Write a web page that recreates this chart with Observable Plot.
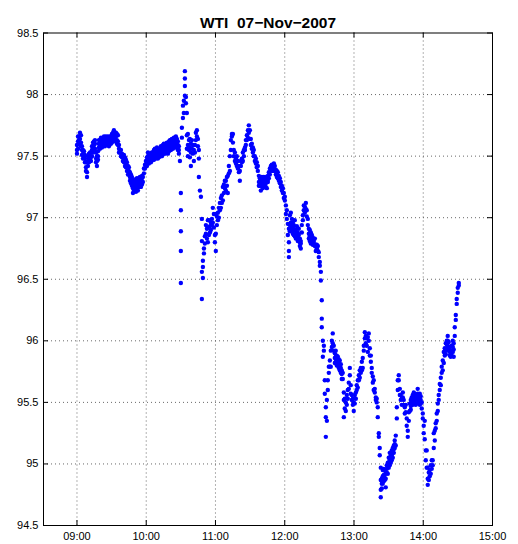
<!DOCTYPE html>
<html>
<head>
<meta charset="utf-8">
<script src="https://cdn.jsdelivr.net/npm/d3@7"></script>
<script src="https://cdn.jsdelivr.net/npm/@observablehq/plot@0.6"></script>
<style>
  html, body { margin: 0; padding: 0; background: #fff; }
  #chart svg text { white-space: pre; }
</style>
</head>
<body>
<div id="chart"></div>
<script>
// WTI crude oil intraday trades, 07 Nov 2007.
// Each row: [minutes after 09:00, price, price, ...] — trades printed within the same moment.
const title = "WTI  07−Nov−2007";
const hourTicks = ["09:00", "10:00", "11:00", "12:00", "13:00", "14:00", "15:00"];
const timeDomain = ["08:31", "15:00"];
const priceTicks = [94.5, 95, 95.5, 96, 96.5, 97, 97.5, 98, 98.5];

const h09 = [
  [0.0,97.55,97.59,97.52],[0.9,97.62,97.56,97.66],[1.7,97.66,97.63,97.60],[2.6,97.69,97.64],[3.5,97.67,97.61,97.58],
  [4.3,97.58,97.55,97.51],[5.2,97.52,97.55,97.48],[6.1,97.50,97.54],[6.9,97.48,97.51,97.45],[7.8,97.45,97.41,97.38],
  [8.7,97.37,97.33],[9.5,97.42,97.46,97.50],[10.4,97.48,97.45,97.52],[11.3,97.50,97.46,97.53],[12.1,97.49,97.53,97.46],
  [13.0,97.55,97.50,97.58],[13.9,97.58,97.53,97.61],[14.7,97.62,97.59,97.55],[15.6,97.63,97.56,97.60],[16.5,97.53,97.48,97.45],
  [17.3,97.46,97.42,97.50],[18.2,97.50,97.54,97.47],[19.0,97.57,97.60,97.63],[19.9,97.59,97.63,97.56],[20.8,97.62,97.59,97.65],
  [21.6,97.60,97.63,97.57],[22.5,97.64,97.61,97.58],[23.4,97.63,97.59,97.66],[24.2,97.65,97.62,97.58],[25.1,97.63,97.60,97.66],
  [26.0,97.62,97.65,97.59],[26.8,97.63,97.59,97.66],[27.7,97.61,97.64,97.58],[28.6,97.63,97.60,97.66],[29.4,97.66,97.63,97.60],
  [30.3,97.68,97.64,97.61],[31.2,97.69,97.66,97.63],[32.0,97.71,97.67,97.64],[32.9,97.68,97.65,97.62],[33.8,97.66,97.63,97.69],
  [34.6,97.68,97.63,97.60],[35.5,97.67,97.62,97.59],[36.4,97.59,97.56,97.53],[37.2,97.55,97.53],[38.1,97.55,97.50],
  [39.0,97.52,97.49],[39.8,97.50,97.46],[40.7,97.48,97.45,97.51],[41.6,97.46,97.42,97.49],[42.4,97.44,97.41,97.47],
  [43.3,97.42,97.38,97.45],[44.2,97.42,97.38,97.35],[45.0,97.38,97.35,97.41],[45.9,97.37,97.33,97.30],[46.8,97.35,97.32,97.28],
  [47.6,97.33,97.29,97.26],[48.5,97.30,97.27,97.20,97.24],[49.4,97.29,97.25,97.22],[50.2,97.27,97.22,97.31],[51.1,97.25,97.30,97.21],
  [51.9,97.28,97.24,97.32],[52.8,97.29,97.26,97.22],[53.7,97.32,97.28,97.25],[54.5,97.29,97.25,97.33],[55.4,97.29,97.25,97.32],
  [56.3,97.30,97.27,97.34],[57.1,97.33,97.29],[58.0,97.40,97.36],[58.9,97.43,97.40],[59.7,97.46,97.42]
];

const h10 = [
  [60.6,97.49,97.45,97.42],[61.5,97.50,97.46,97.53],[62.3,97.51,97.48,97.44],[63.2,97.49,97.46,97.52],[64.1,97.52,97.48,97.45],
  [64.9,97.53,97.50,97.47],[65.8,97.50,97.47,97.53],[66.7,97.55,97.50,97.47],[67.5,97.53,97.49,97.56],[68.4,97.55,97.51,97.48],
  [69.3,97.54,97.50,97.57],[70.1,97.55,97.51,97.48],[71.0,97.52,97.49,97.55],[71.9,97.56,97.53,97.50],[72.7,97.55,97.50,97.58],
  [73.6,97.57,97.53,97.50],[74.5,97.59,97.55,97.52],[75.3,97.56,97.52,97.60],[76.2,97.58,97.55,97.52],[77.1,97.60,97.56,97.53],
  [77.9,97.58,97.54,97.61],[78.8,97.59,97.55,97.52],[79.7,97.62,97.57,97.54],[80.5,97.60,97.56,97.63],[81.4,97.63,97.58,97.55],
  [82.2,97.61,97.57,97.64],[83.1,97.63,97.59,97.56],[84.0,97.62,97.58,97.65],[84.8,97.65,97.60,97.57],[85.7,97.63,97.59,97.66],
  [86.6,97.61,97.57,97.64],[87.4,97.59,97.55,97.62],[88.3,97.58,97.55,97.52],[89.2,97.46],
  [90.0,97.20,97.06,96.89,96.73,96.47],
  [90.9,97.65,97.73],[91.8,97.81,97.91],[92.6,97.95,97.85],[93.5,97.99,98.07,98.13,98.19],
  [94.4,97.98,97.93],[95.2,97.85,97.67,97.56],[96.1,97.68,97.59,97.50],[97.0,97.63,97.55],
  [97.8,97.64,97.57,97.49],[98.7,97.60,97.53,97.42],[99.6,97.63,97.56],[100.4,97.59,97.52],
  [101.3,97.55,97.46],[102.2,97.59,97.53],[103.0,97.69,97.63],[103.9,97.71,97.66],[104.8,97.64,97.58],
  [105.6,97.55,97.48,97.33],[106.5,97.22],[107.4,97.17],
  [108.2,96.99,96.81,96.56,96.34],[109.1,96.65,96.60,96.51],[110.0,96.75,96.71],[110.8,96.79,96.85],
  [111.7,96.87,96.94],[112.6,96.91,96.83],[113.4,96.92,96.80,96.98],[114.3,96.98,96.86],
  [115.2,96.93,96.88],[116.0,96.90,96.96],[116.9,96.94,96.99],[117.7,97.08,96.96],
  [118.6,96.92,97.03],[119.5,96.80,96.86]
];

const h11 = [
  [120.3,96.73,97.03,96.87],[121.2,96.94,97.01],[122.1,97.04,96.98],[122.9,97.00,97.08],
  [123.8,97.06,97.12],[124.7,97.08,97.16],[125.5,97.12,97.18],[126.4,97.14,97.25],[127.3,97.20,97.27],
  [128.1,97.24,97.30],[129.0,97.30,97.22],[129.9,97.26,97.33],[130.7,97.34,97.20],[131.6,97.36,97.42],
  [132.5,97.38,97.50],[133.3,97.55,97.63],[134.2,97.68,97.66],[135.1,97.68,97.61],[135.9,97.55,97.50],
  [136.8,97.53,97.46],[137.7,97.48,97.44],[138.5,97.50,97.42],[139.4,97.46,97.40],[140.3,97.42,97.37],
  [141.1,97.30,97.38],[142.0,97.42,97.46],[142.9,97.45,97.48],[143.7,97.46,97.53],[144.6,97.50,97.55],
  [145.5,97.55,97.57],[146.3,97.59,97.63],[147.2,97.63,97.67],[148.1,97.71,97.65],[148.9,97.75,97.69],
  [149.8,97.71,97.64],[150.6,97.64,97.59],[151.5,97.60,97.56],[152.4,97.57,97.53],[153.2,97.55,97.50],
  [154.1,97.50,97.46],[155.0,97.48,97.44],[155.8,97.45,97.41],[156.7,97.42,97.38],[157.6,97.34,97.29,97.26],
  [158.4,97.32,97.26,97.29],[159.3,97.30,97.22,97.26],[160.2,97.33,97.27,97.30],[161.0,97.29,97.24,97.32],
  [161.9,97.33,97.26,97.29],[162.8,97.31,97.25,97.28],[163.6,97.33,97.28,97.25],[164.5,97.30,97.24,97.33],
  [165.4,97.34,97.29,97.31],[166.2,97.37,97.32],
  [167.1,97.40,97.35],[168.0,97.42,97.38],[168.8,97.43,97.39],[169.7,97.42,97.38],[170.6,97.44,97.40],
  [171.4,97.42,97.38],[172.3,97.39,97.35],[173.2,97.38,97.33],[174.0,97.37,97.32],[174.9,97.34,97.30],
  [175.8,97.32,97.28],[176.6,97.29,97.25],[177.5,97.26,97.22],[178.4,97.24,97.20],[179.2,97.20,97.16]
];

const h12 = [
  [180.1,97.17,97.14],[181.0,97.10,97.03],[181.8,96.99,97.06],[182.7,96.95,96.86],
  [183.6,96.91,96.80,96.73,96.68],[184.4,97.02,96.94,96.89],[185.3,97.04,96.96,96.91],[186.2,96.99,96.90,96.94],
  [187.0,96.96,96.92,96.87],[187.9,96.94,96.86,96.90],[188.7,96.90,96.98,96.85],[189.6,96.90,96.83,96.87],
  [190.5,96.93,96.87,96.84],[191.3,96.88,96.81,96.85],[192.2,96.86,96.91,96.82],[193.1,96.83,96.77,96.80],
  [193.9,96.81,96.75,96.79],[194.8,96.94,96.88],
  [195.7,97.02,96.98],[196.5,97.06,97.10],[197.4,97.09,97.04],[198.3,97.12,97.07],[199.1,97.06,97.01],
  [200.0,96.99,96.94],[200.9,96.91,96.87,96.83],[201.7,96.90,96.85,96.81],[202.6,96.88,96.82,96.79],
  [203.5,96.86,96.80,96.83],[204.3,96.84,96.78,96.81],[205.2,96.79,96.81],[206.1,96.77,96.83],
  [206.9,96.78,96.73],[207.8,96.75,96.78],
  [208.7,96.73,96.77],[209.5,96.68,96.72],[210.4,96.61,96.64],[211.3,96.56,96.49],
  [212.1,96.33,96.18,96.11],[213.0,96.00,95.87],[213.9,95.92,95.96],[214.7,95.68,95.57],
  [215.6,95.46,95.38,95.22],[216.5,95.35,95.52],[217.3,95.60,95.68],[218.2,95.79,95.74],
  [219.1,95.84,95.79],[219.9,95.92,95.79],[220.8,95.95,96.00],[221.6,96.06,95.98],[222.5,95.92,95.96],
  [223.4,95.90,95.86,95.82],[224.2,95.87,95.92,95.83],[225.1,95.88,95.83,95.80],[226.0,95.84,95.87,95.80],
  [226.8,95.82,95.78,95.85],[227.7,95.80,95.84,95.76],[228.6,95.78,95.81,95.74],[229.4,95.76,95.73,95.69],
  [230.3,95.74,95.69],
  [231.2,95.58,95.52,95.38],[232.0,95.45,95.53],[232.9,95.43,95.50],[233.8,95.48,95.56],
  [234.6,95.53,95.60],[235.5,95.61,95.66],[236.4,95.78,95.72],[237.2,95.57,95.64],[238.1,95.52,95.56],
  [239.0,95.48,95.53],[239.8,95.43,95.50]
];

const h13 = [
  [240.7,95.49,95.56],[241.6,95.53,95.58],[242.4,95.60,95.64],[243.3,95.62,95.68],[244.2,95.68,95.72],
  [245.0,95.70,95.76],[245.9,95.74,95.78],[246.8,95.76,95.83],[247.6,95.78,95.86],[248.5,95.92,95.96],
  [249.4,96.07,96.02],[250.2,95.98,96.04],[251.1,96.02,95.96],[252.0,96.03,95.91],[252.8,96.06,96.00],
  [253.7,95.94,95.88],[254.6,95.88,95.83],[255.4,95.74,95.78],[256.3,95.71,95.66],[257.1,95.68,95.60],
  [258.0,95.58,95.61],[258.9,95.54,95.52],[259.7,95.50,95.53],[260.6,95.46,95.38],[261.5,95.25,95.22],
  [262.3,95.07,95.13],[263.2,94.97,94.73,94.87,94.79],[264.1,94.80,94.88,94.84],[264.9,94.84,94.95,94.90],
  [265.8,94.91,94.96,94.86],[266.7,94.87,94.95,94.91],[267.5,94.81,94.93,94.88],[268.4,94.99,94.93,94.96],
  [269.3,94.92,95.01,94.97],[270.1,94.97,95.05,95.01],[271.0,95.03,95.09,94.99],[271.9,95.01,95.07,95.04],
  [272.7,95.07,95.11,95.03],[273.6,95.05,95.13,95.09],[274.5,95.09,95.15,95.12],[275.3,95.13,95.19,95.16],
  [276.2,95.15,95.23],[277.1,95.37,95.46],[277.9,95.60,95.68],
  [278.8,95.72,95.68],[279.7,95.61,95.56],[280.5,95.56,95.52],[281.4,95.53,95.48],[282.3,95.58,95.54],
  [283.1,95.52,95.48],[284.0,95.46,95.41],[284.9,95.42,95.48],[285.7,95.37,95.31],[286.6,95.27,95.22],
  [287.5,95.35,95.42],[288.3,95.43,95.49],[289.2,95.47,95.52,95.44],[290.0,95.54,95.48,95.51],
  [290.9,95.52,95.56,95.48],[291.8,95.55,95.58,95.51],[292.6,95.57,95.52,95.49],[293.5,95.53,95.48,95.56],
  [294.4,95.52,95.56,95.49],[295.2,95.57,95.61,95.53],[296.1,95.56,95.50,95.53],[297.0,95.53,95.48,95.57],
  [297.8,95.55,95.52,95.49],[298.7,95.50,95.45],[299.6,95.41,95.37]
];

const h14 = [
  [300.4,95.31,95.25],[301.3,95.20,95.35],[302.2,95.11,95.03],[303.0,95.11,94.97],
  [303.9,94.88,94.83,94.97],[304.8,94.93,94.87],[305.6,94.95,94.90],[306.5,94.92,94.99],
  [307.4,94.96,95.03],[308.2,95.03,94.99],[309.1,95.13,95.25],[310.0,95.27,95.19],[310.8,95.33,95.29],
  [311.7,95.35,95.41],[312.6,95.43,95.49],[313.4,95.56,95.52],[314.3,95.65,95.60],[315.2,95.70,95.64],
  [316.0,95.74,95.79],[316.9,95.76,95.84],[317.8,95.82,95.91],[318.6,95.88,95.94,95.91],[319.5,95.92,95.98,95.89],
  [320.4,96.00,95.94,95.97],[321.2,96.04,95.96,96.00],[322.1,95.99,95.92,95.95],[323.0,95.95,95.88,95.91],
  [323.8,95.87,95.92,95.89],[324.7,95.96,95.91,95.88],[325.6,95.91,96.00,95.95],[326.4,95.87,95.98,95.93],
  [327.3,96.11,96.04],[328.2,96.21,96.17],[329.0,96.30,96.34],[329.9,96.39,96.43],[330.8,96.47,96.45]
];

const sessions = [h09, h10, h11, h12, h13, h14];
const trades = sessions.flatMap(rows =>
  rows.flatMap(([m, ...ps]) => ps.map(p => ({hour: 9 + m / 60, price: p})))
);

const clock = s => { const [h, m] = s.split(":").map(Number); return h + m / 60; };
const hourVals = hourTicks.map(clock);
const hourLabel = new Map(hourVals.map((v, i) => [v, hourTicks[i]]));

const W = 518, H = 544;
const mL = 43, mR = 26, mT = 32.5, mB = 19;
const frameW = W - mL - mR, frameH = H - mT - mB;
const tickLen = 5;
const gridStyle = {stroke: "#444", strokeOpacity: 0.8, strokeDasharray: "1,3", strokeWidth: 1};

const chart = Plot.plot({
  width: W,
  height: H,
  marginLeft: mL,
  marginRight: mR,
  marginTop: mT,
  marginBottom: mB,
  style: {background: "#fff", color: "#000", fontFamily: "'Liberation Sans', Arial, Helvetica, sans-serif", fontSize: "11px"},
  x: {type: "linear", domain: timeDomain.map(clock)},
  y: {type: "linear", domain: [priceTicks[0], priceTicks[priceTicks.length - 1]]},
  marks: [
    Plot.gridX(hourVals.slice(0, -1), gridStyle),
    Plot.gridY(priceTicks.slice(1, -1), gridStyle),
    Plot.dot(trades, {x: "hour", y: "price", r: 2.2, fill: "#0000ff", stroke: "none"}),
    Plot.frame({stroke: "#000", strokeWidth: 1}),
    // inward tick marks on all four sides
    Plot.tickX(hourVals, {x: d => d, insetTop: frameH - tickLen, stroke: "#000"}),
    Plot.tickX(hourVals, {x: d => d, insetBottom: frameH - tickLen, stroke: "#000"}),
    Plot.tickY(priceTicks, {y: d => d, insetRight: frameW - tickLen, stroke: "#000"}),
    Plot.tickY(priceTicks, {y: d => d, insetLeft: frameW - tickLen, stroke: "#000"}),
    Plot.axisX(hourVals, {anchor: "bottom", tickSize: 0, tickPadding: 7, label: null, tickFormat: v => hourLabel.get(v), fontSize: 11}),
    Plot.axisY(priceTicks, {anchor: "left", tickSize: 0, tickPadding: 5, label: null, tickFormat: d => String(d), fontSize: 11}),
    Plot.text([title], {frameAnchor: "top", text: d => d, lineAnchor: "bottom", dy: -5, fontSize: 15.5, fontWeight: "bold", fill: "#000"})
  ]
});

document.getElementById("chart").appendChild(chart);
</script>
</body>
</html>
